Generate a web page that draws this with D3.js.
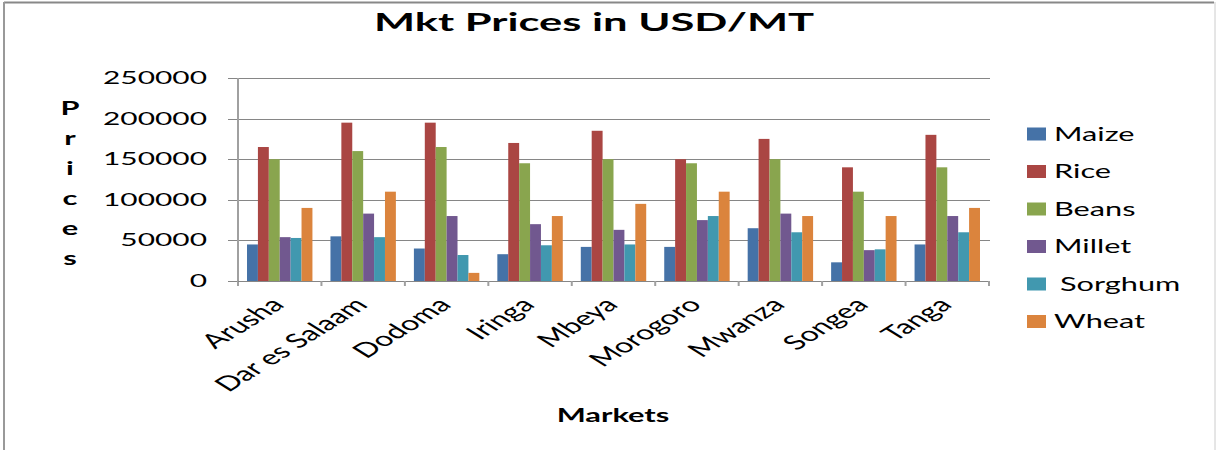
<!DOCTYPE html>
<html>
<head>
<meta charset="utf-8">
<script src="https://cdn.jsdelivr.net/npm/d3@7"></script>
<style>
  body { margin: 0; background: #fff; }
  text { font-family: Lato, 'Open Sans', sans-serif; fill: #000; }
</style>
</head>
<body>
<div id="svg-container"></div>
<script>
// Data
const markets = ['Arusha', 'Dar es Salaam', 'Dodoma', 'Iringa', 'Mbeya', 'Morogoro', 'Mwanza', 'Songea', 'Tanga']
const crops = ['Maize', 'Rice', 'Beans', 'Millet', 'Sorghum', 'Wheat']
const maize = [45000, 55000, 40000, 33000, 42000, 42000, 65000, 23000, 45000]
const rice = [165000, 195000, 195000, 170000, 185000, 150000, 175000, 140000, 180000]
const beans = [150000, 160000, 165000, 145000, 150000, 145000, 150000, 110000, 140000]
const millet = [54000, 83000, 80000, 70000, 63000, 75000, 83000, 38000, 80000]
const sorghum = [53000, 54000, 32000, 44000, 45000, 80000, 60000, 39000, 60000]
const wheat = [90000, 110000, 10000, 80000, 95000, 110000, 80000, 80000, 90000]
const yTicks = [0, 50000, 100000, 150000, 200000, 250000]
const colors = ['#4572A7', '#AA4643', '#89A54E', '#71588F', '#4198AF', '#DB843D']

const seriesValues = [maize, rice, beans, millet, sorghum, wheat]

// Size & Margins
var svgWidth = 1216,
  svgHeight = 450,
  plot = { left: 238, right: 989, top: 78, bottom: 281 }
const sx = 1.62 // the original picture is stretched sideways

var svg = d3
  .select('#svg-container')
  .append('svg')
  .attr('width', svgWidth)
  .attr('height', svgHeight)

// chart border
svg.append('line').attr('x1', 4).attr('x2', 1214).attr('y1', 2.5).attr('y2', 2.5)
  .attr('stroke', '#888').attr('stroke-width', 2)
svg.append('line').attr('x1', 4).attr('x2', 4).attr('y1', 2).attr('y2', 450)
  .attr('stroke', '#999').attr('stroke-width', 2)
svg.append('line').attr('x1', 1215).attr('x2', 1215).attr('y1', 2).attr('y2', 450)
  .attr('stroke', '#ccc').attr('stroke-width', 1)

// Scales
var x0 = d3.scaleBand().domain(markets).range([plot.left, plot.right]).padding(0)
var x1 = d3
  .scaleBand()
  .domain(crops)
  .range([x0.bandwidth() * 0.108, x0.bandwidth() * 0.892])
  .padding(0)
var y = d3.scaleLinear().domain([0, 250000]).range([plot.bottom, plot.top])

// helper for stretched text
function stretchedText(g, x, yy, str, anchor, s) {
  return g
    .append('text')
    .attr('transform', `translate(${x},${yy}) scale(${s || sx},1)`)
    .attr('text-anchor', anchor || 'start')
    .text(str)
}

// Gridlines
svg
  .append('g')
  .selectAll('line')
  .data(yTicks)
  .join('line')
  .attr('x1', plot.left - 10)
  .attr('x2', plot.right + 1)
  .attr('y1', d => Math.round(y(d)) + 0.5)
  .attr('y2', d => Math.round(y(d)) + 0.5)
  .attr('stroke', '#868686')
  .attr('stroke-width', 1)

// y tick labels
const yLab = svg.append('g').style('font-size', '18px')
yTicks.forEach(t => {
  stretchedText(yLab, 207, y(t) + 6, t, 'end', 1.66)
})

// Bars
const barG = svg.append('g')
crops.forEach((c, ci) => {
  barG
    .append('g')
    .attr('fill', colors[ci])
    .selectAll('rect')
    .data(seriesValues[ci])
    .join('rect')
    .attr('x', (d, i) => x0(markets[i]) + x1(c))
    .attr('y', d => y(d))
    .attr('width', x1.bandwidth())
    .attr('height', d => y(0) - y(d))
})

// Axes lines
svg.append('line')
  .attr('x1', plot.left).attr('x2', plot.left)
  .attr('y1', plot.top).attr('y2', plot.bottom + 5)
  .attr('stroke', '#a0a0a0').attr('stroke-width', 2)
svg.append('line')
  .attr('x1', plot.left).attr('x2', plot.right)
  .attr('y1', plot.bottom + 0.5).attr('y2', plot.bottom + 0.5)
  .attr('stroke', '#868686').attr('stroke-width', 1)
svg
  .append('g')
  .selectAll('line')
  .data(markets)
  .join('line')
  .attr('x1', d => x0(d) + x0.bandwidth())
  .attr('x2', d => x0(d) + x0.bandwidth())
  .attr('y1', plot.bottom)
  .attr('y2', plot.bottom + 5)
  .attr('stroke', '#a0a0a0')
  .attr('stroke-width', 2)

// x tick labels (rotated, then stretched)
svg
  .append('g')
  .style('font-size', '20px')
  .selectAll('text')
  .data(markets)
  .join('text')
  .attr('transform', d => `translate(${x0(d) + x0.bandwidth() / 2 + 6},${plot.bottom + 25}) scale(${sx},1) rotate(-45)`)
  .attr('text-anchor', 'end')
  .text(d => d)

// Title
const titleG = svg.append('g').style('font-size', '25px').style('font-weight', 'bold')
stretchedText(titleG, 594, 31, 'Mkt Prices in USD/MT', 'middle', 1.74)

// Axis titles
const xt = svg.append('g').style('font-size', '19px').style('font-weight', 'bold')
stretchedText(xt, 613, 422, 'Markets', 'middle')

const yt = svg.append('g').style('font-size', '19px').style('font-weight', 'bold')
'Prices'.split('').forEach((ch, i) => {
  stretchedText(yt, 70, 115 + i * 30, ch, 'middle')
})

// Legend
const legend = svg.append('g').style('font-size', '18.5px')
crops.forEach((c, i) => {
  const ly = 134 + i * 37.5
  legend.append('rect')
    .attr('x', 1027).attr('y', ly - 6.5)
    .attr('width', 19).attr('height', 13)
    .attr('fill', colors[i])
  stretchedText(legend, c === 'Sorghum' ? 1060 : 1054, ly + 6.5, c, 'start', 1.66)
})
</script>
</body>
</html>
